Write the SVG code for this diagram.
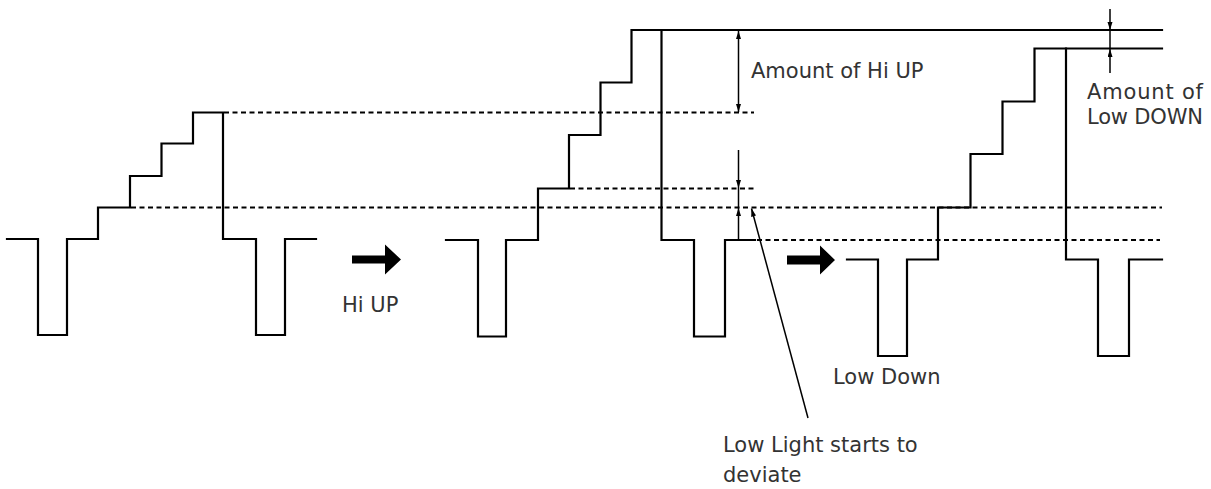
<svg xmlns="http://www.w3.org/2000/svg" width="1211" height="489" viewBox="0 0 1211 489">
<style>
.w{fill:none;stroke:#000;stroke-width:2.2;stroke-linejoin:miter;stroke-linecap:square}
.d{fill:none;stroke:#000;stroke-width:2;stroke-dasharray:5 3.5}
.m{fill:none;stroke:#000;stroke-width:1.5}
.t{font-family:"DejaVu Sans",Verdana,sans-serif;font-size:21px;fill:#333}
.big{fill:#000}
</style>
<defs>
<marker id="ah" markerUnits="userSpaceOnUse" markerWidth="10" markerHeight="8" refX="8" refY="2.5" orient="auto-start-reverse">
<path d="M0,0 L8,2.5 L0,5 z" fill="#000"/>
</marker>
</defs>
<rect width="1211" height="489" fill="#fff"/>
<g id="wave1">
<path class="w" d="M7,239 H38 V335 H67 V239 H98 V207.5 H130 V176 H161.5 V143.5 H193 V112.5 H223 V239 H256 V335 H285 V239 H316"/>
</g>
<g id="wave2">
<path class="w" d="M446,240 H478 V336.5 H506 V240 H538 V188.5 H569 V135 H600.5 V82.5 H631.5 V30 H1162"/>
<path class="w" d="M661.5,30 V240 H694 V336.5 H725 V240 H755"/>
</g>
<g id="wave3">
<path class="w" d="M847,259.5 H878 V356 H907 V259.5 H938 V207.5 H970.5 V154 H1002.5 V101.5 H1034.5 V48.5 H1162"/>
<path class="w" d="M1066,48.5 V259.5 H1098 V356 H1129 V259.5 H1162"/>
</g>
<g id="guides">
<line class="d" x1="224" y1="112.5" x2="754" y2="112.5"/>
<line class="d" x1="131" y1="207.5" x2="1162" y2="207.5"/>
<line class="d" x1="570" y1="188.5" x2="756" y2="188.5"/>
<line class="d" x1="757" y1="240" x2="1160" y2="240"/>
</g>
<g id="arrows">
<path class="big" d="M352,255.5 H385 V244.5 L401,259.5 L385,274.5 V263.5 H352 z"/>
<path class="big" d="M787,255.5 H820 V245.5 L835,260 L820,274.5 V264.5 H787 z"/>
</g>
<g id="connectors">
<line class="m" x1="738.5" y1="31" x2="738.5" y2="112" marker-start="url(#ah)" marker-end="url(#ah)"/>
<line class="m" x1="738.5" y1="150" x2="738.5" y2="188" marker-end="url(#ah)"/>
<line class="m" x1="738.5" y1="188" x2="738.5" y2="208"/>
<line class="m" x1="738.5" y1="240" x2="738.5" y2="208" marker-end="url(#ah)"/>
<line class="m" x1="1110" y1="9" x2="1110" y2="30" marker-end="url(#ah)"/>
<line class="m" x1="1110" y1="30" x2="1110" y2="49"/>
<line class="m" x1="1110" y1="73" x2="1110" y2="49" marker-end="url(#ah)"/>
<line class="m" x1="808" y1="418" x2="751.5" y2="208.5" marker-end="url(#ah)"/>
</g>
<g id="labels">
<text class="t" x="342" y="312">Hi UP</text>
<text class="t" x="751" y="78">Amount of Hi UP</text>
<text class="t" x="1087" y="99" textLength="116" lengthAdjust="spacing">Amount  of</text>
<text class="t" x="1087" y="124" textLength="116" lengthAdjust="spacing">Low DOWN</text>
<text class="t" x="833" y="384">Low Down</text>
<text class="t" x="723" y="452">Low Light starts to</text>
<text class="t" x="723" y="482">deviate</text>
</g>
</svg>
